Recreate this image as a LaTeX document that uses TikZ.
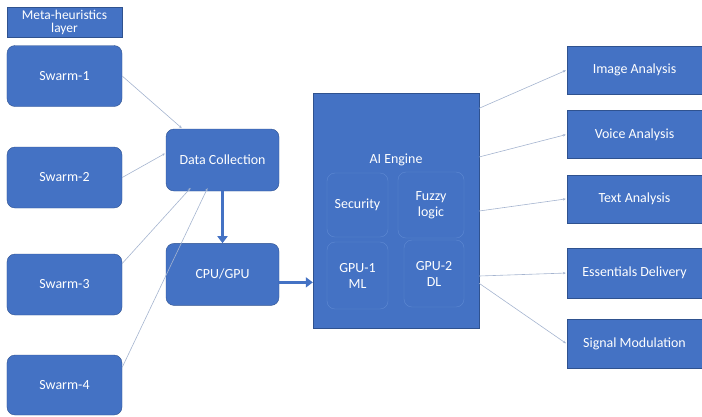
\documentclass[tikz,border=0pt]{standalone}
\usepackage{fontspec}
\setmainfont{Carlito}
\usepackage{xcolor}
\usetikzlibrary{arrows.meta, positioning}
\definecolor{boxblue}{HTML}{4472C4}
\definecolor{edgeblue}{HTML}{2F528F}
\definecolor{innerblue}{HTML}{5F8AD3}
\definecolor{linkgray}{HTML}{A5B4CF}

\begin{document}
\begin{tikzpicture}[x=1bp, y=-1bp, >=Stealth,
    box/.style={draw=edgeblue, fill=boxblue, text=white, font=\fontsize{14}{16}\selectfont, align=center, inner sep=2bp},
    swarmbox/.style={box, rounded corners=8bp, minimum width=115bp, minimum height=61bp},
    outbox/.style={box, minimum width=135bp, minimum height=48bp},
    innerbox/.style={draw=innerblue, rounded corners=8bp, fill=boxblue, text=white, font=\fontsize{14}{16}\selectfont, align=center, inner sep=1bp},
    link/.style={->, draw=linkgray, line width=0.6bp, shorten >=1bp, >={Stealth[length=3bp, width=2.5bp]}},
    thick link/.style={draw=boxblue, line width=3.5bp, -{Triangle[length=7bp, width=10bp]}}]
    \useasboundingbox (0,0) rectangle (702,416);

    % Meta-heuristics layer
    \node[box, minimum width=115bp, minimum height=30bp, inner sep=0bp, font=\fontsize{13.5}{13}\selectfont] (meta) at (64.5,22) {Meta-heuristics\\layer};
    \node[swarmbox] (sw1) at (64.5,76) {Swarm-1};
    \node[swarmbox] (sw2) at (64.5,177.5) {Swarm-2};
    \node[swarmbox] (sw3) at (64.5,284.5) {Swarm-3};
    \node[swarmbox, minimum height=60bp] (sw4) at (64.5,385) {Swarm-4};

    % Collection and processing
    \node[swarmbox, minimum width=113bp, minimum height=62bp] (dc) at (222.5,160) {Data Collection};
    \node[swarmbox, minimum width=113bp, minimum height=62bp, below=52bp of dc] (cpu) {CPU/GPU};

    % AI Engine
    \node[box, minimum width=166bp, minimum height=235bp] (ai) at (396,211) {};
    \node[text=white, font=\fontsize{14}{16}\selectfont] (ailabel) at (396,160) {AI Engine};
    \node[innerbox, minimum width=61bp, minimum height=64bp] (sec) at (357.5,205) {Security};
    \node[innerbox, minimum width=66bp, minimum height=66bp] (fuzzy) at (431,205) {Fuzzy\\logic};
    \node[innerbox, minimum width=61bp, minimum height=67bp] (gpu1) at (357.5,275.5) {GPU-1\\ML};
    \node[innerbox, minimum width=60bp, minimum height=67bp] (gpu2) at (434,273.5) {GPU-2\\DL};

    % Applications
    \node[outbox] (img) at (634.5,70) {Image Analysis};
    \node[outbox, below=16bp of img] (voice) {Voice Analysis};
    \node[outbox, below=16bp of voice] (txt) {Text Analysis};
    \node[outbox, minimum height=50bp] (ess) at (634.5,273) {Essentials Delivery};
    \node[outbox, minimum height=49bp, below=21bp of ess] (sig) {Signal Modulation};

    % Connectors
    \draw[link] (sw1.east) -- (dc.142);
    \draw[link] (sw2.east) -- (dc.173);
    \draw[link] (sw3.20) -- ([yshift=4bp]dc.225);
    \draw[link] (sw4.17) -- ([yshift=4bp]dc.245);

    \draw[thick link] (dc.south) -- (cpu.north);
    \draw[thick link] (cpu.-8) -- (cpu.-8 -| ai.west);

    \draw[link] (ai.51) -- (img.west);
    \draw[link] (ai.33) -- (voice.west);
    \draw[link] (ai.0) -- (txt.west);
    \draw[link] (ai.-38) -- (ess.west);
    \draw[link] (ai.-41) -- (sig.west);

\end{tikzpicture}
\end{document}
